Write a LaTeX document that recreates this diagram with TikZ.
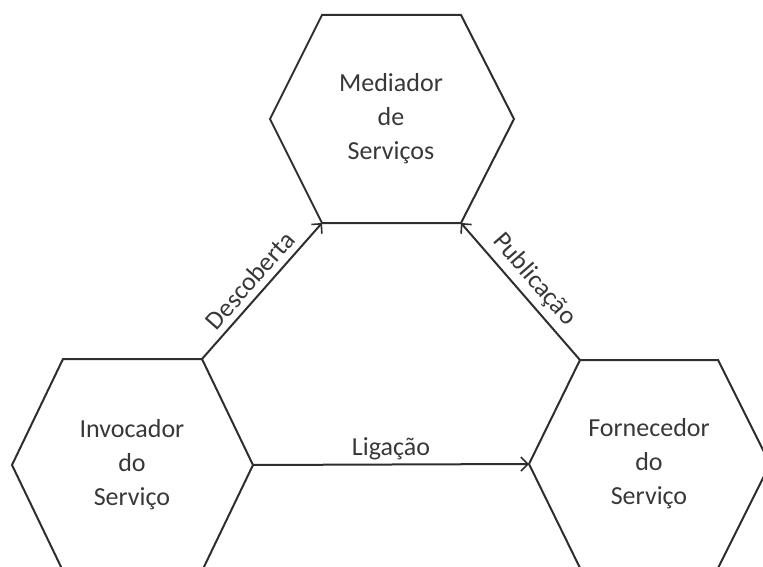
\documentclass[tikz,border=0pt]{standalone}
\usepackage{fontspec}
\setmainfont{Carlito}
\usetikzlibrary{arrows.meta}
\begin{document}
\begin{tikzpicture}[x=1pt,y=-1pt,
  hexline/.style={draw=black!82, line width=2pt, line join=miter},
  hexlabel/.style={text=black!78, align=center, font=\fontsize{26}{34}\selectfont},
  flow/.style={draw=black!82, line width=2pt, -{Straight Barb[length=7pt,width=14pt,line width=1.6pt]}},
  flowlabel/.style={text=black!78, font=\fontsize{26}{30}\selectfont, inner sep=6pt}]
\useasboundingbox (0,0) rectangle (763,567);
\clip (0,0) rectangle (763,567);

% Mediador de Serviços (top)
\coordinate (m1) at (322,15);
\coordinate (m2) at (461,15);
\coordinate (m3) at (514,119);
\coordinate (m4) at (461,223);
\coordinate (m5) at (322,223);
\coordinate (m6) at (270,119);
\draw[hexline] (m1) -- (m2) -- (m3) -- (m4) -- (m5) -- (m6) -- cycle;
\node[hexlabel] (med) at (391,119) {Mediador\\de\\Serviços};

% Invocador do Serviço (bottom left)
\coordinate (i1) at (63,359);
\coordinate (i2) at (202,359);
\coordinate (i3) at (253,465);
\coordinate (i4) at (202,571);
\coordinate (i5) at (63,571);
\coordinate (i6) at (12,465);
\draw[hexline] (i1) -- (i2) -- (i3) -- (i4) -- (i5) -- (i6) -- cycle;
\node[hexlabel] (inv) at (132,465) {Invocador\\do\\Serviço};

% Fornecedor do Serviço (bottom right)
\coordinate (f1) at (580,360);
\coordinate (f2) at (718,360);
\coordinate (f3) at (770,464);
\coordinate (f4) at (718,568);
\coordinate (f5) at (580,568);
\coordinate (f6) at (529,464);
\draw[hexline] (f1) -- (f2) -- (f3) -- (f4) -- (f5) -- (f6) -- cycle;
\node[hexlabel] (for) at (649,464) {Fornecedor\\do\\Serviço};

% Interactions
\draw[flow] (i2) -- node[flowlabel, midway, sloped, above] (lblD) {Descoberta} (m5);
\draw[flow] (f1) -- node[flowlabel, midway, sloped, above] (lblP) {Publicação} (m4);
\draw[flow] (i3) -- node[flowlabel, midway, above, inner sep=4pt] (lblL) {Ligação} (f6);
\end{tikzpicture}
\end{document}
